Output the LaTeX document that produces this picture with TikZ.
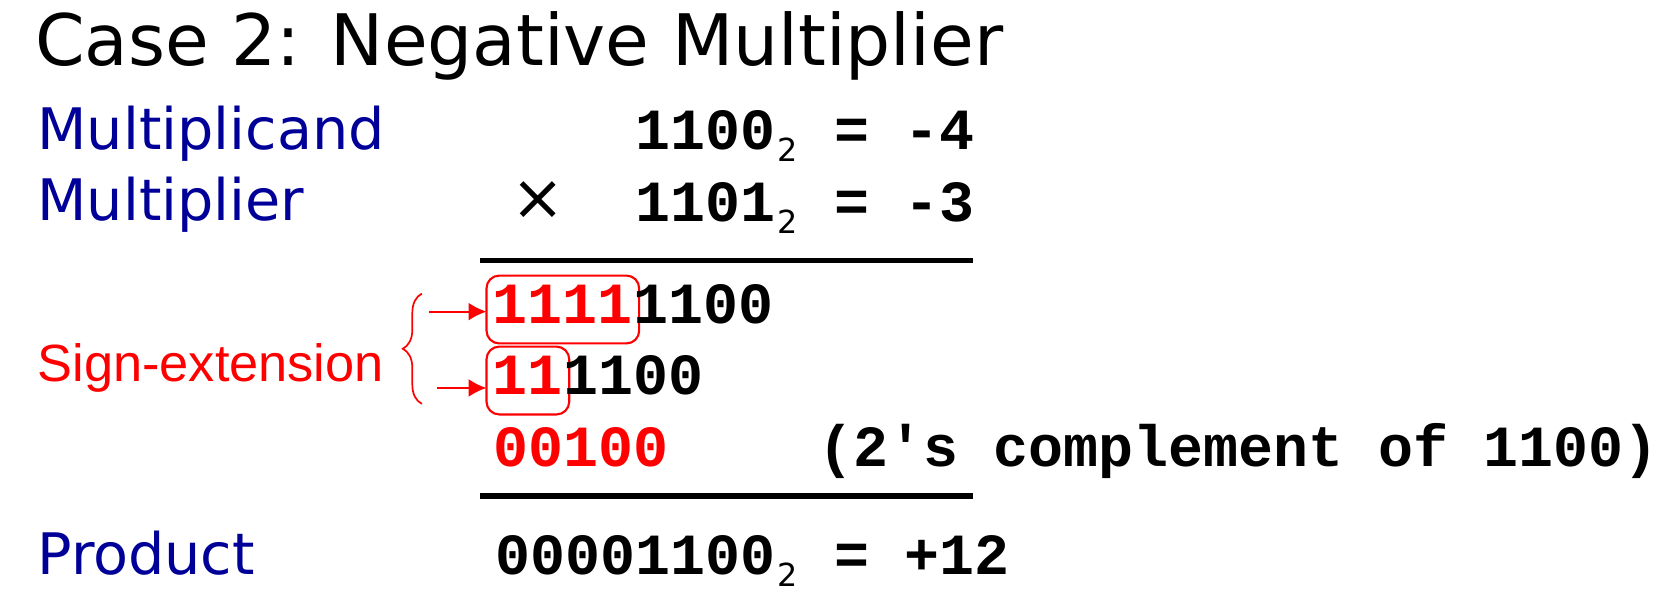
\documentclass[tikz,border=0pt]{standalone}
\usepackage{fontspec}
\setmainfont{DejaVu Sans}
\newfontfamily\binfont{Liberation Mono}
\newfontfamily\notefont{Liberation Sans}
\usetikzlibrary{positioning,arrows.meta,decorations.pathreplacing}
\definecolor{labelblue}{RGB}{0,0,153}
\newcommand{\bsub}[1]{\kern1pt\raisebox{-5.5pt}{\normalfont\fontsize{15}{16}\selectfont #1}\kern1pt\relax}

\begin{document}
\begin{tikzpicture}[x=0.5pt, y=-0.5pt,
    title/.style = {anchor=base west, inner sep=0pt, font=\fontsize{33.5}{40}\selectfont},
    lbl/.style = {anchor=base west, inner sep=0pt, text=labelblue, font=\fontsize{27}{32}\selectfont},
    digits/.style = {anchor=base west, inner sep=0pt, font=\binfont\bfseries\fontsize{27.5}{32}\selectfont},
    ext/.style = {digits, text=red, draw=red, line width=1pt, rounded corners=6pt, inner xsep=3pt, inner ysep=0pt, outer sep=0pt, text height=22.5pt, text depth=9.5pt},
    pointer/.style = {red, line width=1pt, -{Latex[length=8.5pt, width=8.5pt]}},
    rule/.style = {line width=2.5pt}]

    \useasboundingbox (0,0) rectangle (1568,558.5);

    \node[title] (title) at (33,62) {Case 2: Negative Multiplier};

    \node[lbl] (mcandlbl) at (35,141) {Multiplicand};
    \node[lbl] (mplierlbl) at (35,208) {Multiplier};
    \node[anchor=base west, inner sep=0pt, text=red, font=\notefont\fontsize{24.7}{30}\selectfont] (signlbl) at (35,360) {Sign-extension};
    \node[lbl] (prodlbl) at (35,542) {Product};

    \node[digits] (mcand) at (599,141) {1100\bsub{2} = -4};
    \node[digits] (mplier) at (599,209) {1101\bsub{2} = -3};
    \node[font=\fontsize{30}{32}\selectfont] (times) at (508,189) {×};

    \coordinate (r1a) at (453,246);
    \coordinate (r1b) at (918,246);
    \draw[rule] (r1a) -- (r1b);

    \node[ext] (ext1) at (459,305) {1111};
    \node[digits] (pp1) at ([xshift=-3pt]ext1.base east) {1100};
    \node[ext] (ext2) at (459,372) {11};
    \node[digits] (pp2) at ([xshift=-3pt]ext2.base east) {1100};
    \node[digits, text=red] (pp3) at (465,440) {00100};
    \node[digits] (note) at (772,440) {(2\textquotesingle s complement of 1100)};

    \coordinate (a1) at (405,294);
    \coordinate (a2) at (412,366);
    \draw[pointer] (a1) -- (a1 -| ext1.west);
    \draw[pointer] (a2) -- (a2 -| ext2.west);

    \coordinate (bracebot) at (398,381);
    \coordinate (bracetop) at (398,277);
    \draw[red, line width=0.8pt, decorate, decoration={brace, amplitude=9pt}] (bracebot) -- (bracetop);

    \coordinate (r2a) at (453,468);
    \coordinate (r2b) at (918,468);
    \draw[rule] (r2a) -- (r2b);

    \node[digits] (prod) at (467,542) {00001100\bsub{2} = +12};

\end{tikzpicture}
\end{document}
